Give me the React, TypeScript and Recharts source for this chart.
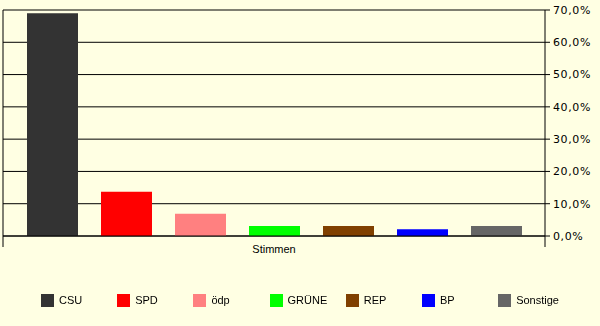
import React from "react";
import { BarChart, Bar, XAxis, YAxis, CartesianGrid, Legend } from "recharts";

const category = "Stimmen";
const parties = ["CSU", "SPD", "ödp", "GRÜNE", "REP", "BP", "Sonstige"];
const shares = [69.0, 13.7, 6.9, 3.1, 3.1, 2.1, 3.1];
const partyColors = ["#333333", "#ff0000", "#ff8080", "#00ff00", "#804000", "#0000ff", "#666666"];
const percentTicks = [0, 10, 20, 30, 40, 50, 60, 70];

const row: Record<string, string | number> = { name: category };
parties.forEach((p, i) => {
  row[p] = shares[i];
});
const data = [row];

const BG = "#ffffe3";

function CategoryTick(props: any) {
  const { x, y, payload, width } = props;
  const half = payload && payload.offset ? payload.offset : width / 2;
  return (
    <g>
      <line x1={x - half} x2={x - half} y1={y} y2={y + 11} stroke="#000" />
      <line x1={x + half} x2={x + half} y1={y} y2={y + 11} stroke="#000" />
      <text
        x={x}
        y={y + 13}
        textAnchor="middle"
        dominantBaseline="central"
        fontFamily="Liberation Sans, Arial, sans-serif"
        fontSize={11}
        fill="#000"
      >
        {payload.value}
      </text>
    </g>
  );
}

function PartyLegend({ payload }: any) {
  // keep the series order, not the alphabetical one
  const items = [...(payload || [])].sort(
    (a: any, b: any) => parties.indexOf(a.value) - parties.indexOf(b.value)
  );
  return (
    <div style={{ display: "flex" }}>
      {items.map((entry: any) => (
        <div key={entry.value} style={{ width: 76.2, display: "flex", alignItems: "center", height: 13 }}>
          <span style={{ width: 13, height: 13, background: entry.color, marginRight: 5, flex: "none" }} />
          <span
            style={{
              fontFamily: "Liberation Sans, Arial, sans-serif",
              fontSize: 11,
              lineHeight: "13px",
              color: "#000",
              whiteSpace: "nowrap",
            }}
          >
            {entry.value}
          </span>
        </div>
      ))}
    </div>
  );
}

export default function App() {
  return (
    <div style={{ position: "fixed", left: 0, top: 0, width: 600, height: 326, background: BG }}>
      <BarChart
        width={600}
        height={326}
        data={data}
        margin={{ top: 10, right: 0, left: 2, bottom: 0 }}
        barSize={51}
        barGap={23}
      >
        <CartesianGrid yAxisId="right" vertical={false} stroke="#000" strokeWidth={1} />
        <XAxis
          dataKey="name"
          height={90}
          axisLine={{ stroke: "#000" }}
          tickLine={false}
          tickSize={0}
          tickMargin={0}
          tick={<CategoryTick />}
        />
        <YAxis
          yAxisId="left"
          orientation="left"
          width={1}
          domain={[0, 70]}
          ticks={percentTicks}
          tick={false}
          tickLine={false}
          axisLine={{ stroke: "#000" }}
        />
        <YAxis
          yAxisId="right"
          orientation="right"
          width={55}
          domain={[0, 70]}
          ticks={percentTicks}
          interval={0}
          tickSize={5}
          tickMargin={3}
          axisLine={{ stroke: "#000" }}
          tickLine={{ stroke: "#000" }}
          tick={{ fontFamily: "DejaVu Sans, sans-serif", fontSize: 11, fill: "#000", letterSpacing: 0.6 }}
          tickFormatter={(v: number) => `${v.toFixed(1).replace(".", ",")}%`}
        />
        <Legend
          layout="horizontal"
          verticalAlign="middle"
          align="center"
          content={<PartyLegend />}
          wrapperStyle={{ top: 294, left: 41, width: 560, height: 13 }}
        />
        {parties.map((p, i) => (
          <Bar key={p} yAxisId="right" dataKey={p} name={p} fill={partyColors[i]} isAnimationActive={false} />
        ))}
      </BarChart>
    </div>
  );
}
